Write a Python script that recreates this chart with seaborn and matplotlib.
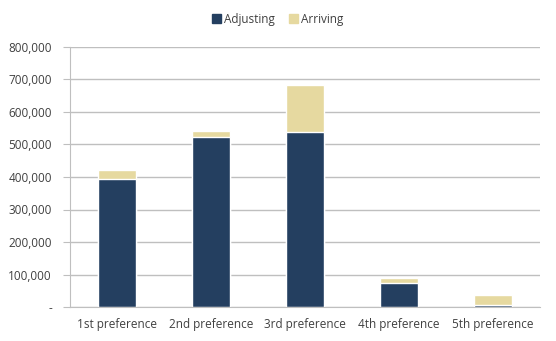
import matplotlib
matplotlib.use("Agg")
import matplotlib.pyplot as plt
import seaborn as sns
import pandas as pd
import numpy as np
from matplotlib.ticker import FuncFormatter, FixedLocator
from matplotlib.patches import Patch

categories = ["1st preference", "2nd preference", "3rd preference", "4th preference", "5th preference"]
adjusting = [394000, 523000, 538000, 74000, 7000]
arriving = [27000, 19000, 145000, 15000, 30000]

df = pd.DataFrame({"cat": categories, "adj": adjusting, "arr": arriving})
df["total"] = df["adj"] + df["arr"]

sns.set_style("white")
plt.rcParams["font.family"] = ["Open Sans", "DejaVu Sans"]

navy = "#243F60"
beige = "#E6D9A0"
txt = "#404040"

fig = plt.figure(figsize=(5.56, 3.41), dpi=100)
ax = fig.add_axes([70/556, 1 - 307/341, 470/556, 260/341])

sns.barplot(data=df, x="cat", y="total", color=beige, width=0.4, ax=ax, saturation=1)
sns.barplot(data=df, x="cat", y="adj", color=navy, width=0.4, ax=ax, saturation=1)

ax.set_ylim(0, 800000)
ax.set_xlim(-0.5, 4.5)
ax.set_yticks(np.arange(0, 800001, 100000))
ax.yaxis.set_major_formatter(FuncFormatter(lambda v, p: "-" if v == 0 else f"{int(v):,}"))
ax.grid(axis="y", color="#BFBFBF", linewidth=1)
ax.set_axisbelow(True)
ax.set_xlabel("")
ax.set_ylabel("")

for s in ["top", "right"]:
    ax.spines[s].set_visible(False)
ax.spines["left"].set_color("#BFBFBF")
ax.spines["bottom"].set_color("#BFBFBF")

ax.tick_params(axis="x", which="major", length=0, colors=txt, labelsize=8.5, pad=8)
ax.xaxis.set_minor_locator(FixedLocator(np.arange(-0.5, 4.6, 1)))
ax.tick_params(axis="x", which="minor", length=5, color="#BFBFBF")
ax.tick_params(axis="y", length=5, color="#BFBFBF", colors=txt, labelsize=8.5, pad=8)
ax.tick_params(axis="y", which="major", left=True)

handles = [Patch(color=navy, label="Adjusting"), Patch(color=beige, label="Arriving")]
fig.legend(handles=handles, loc="center", bbox_to_anchor=(0.5, 1 - 19/341), ncol=2,
           frameon=False, fontsize=8.5, handlelength=0.7, handleheight=0.7,
           handletextpad=0.3, columnspacing=1.2, labelcolor=txt)

fig.savefig("out.png", dpi=100)
